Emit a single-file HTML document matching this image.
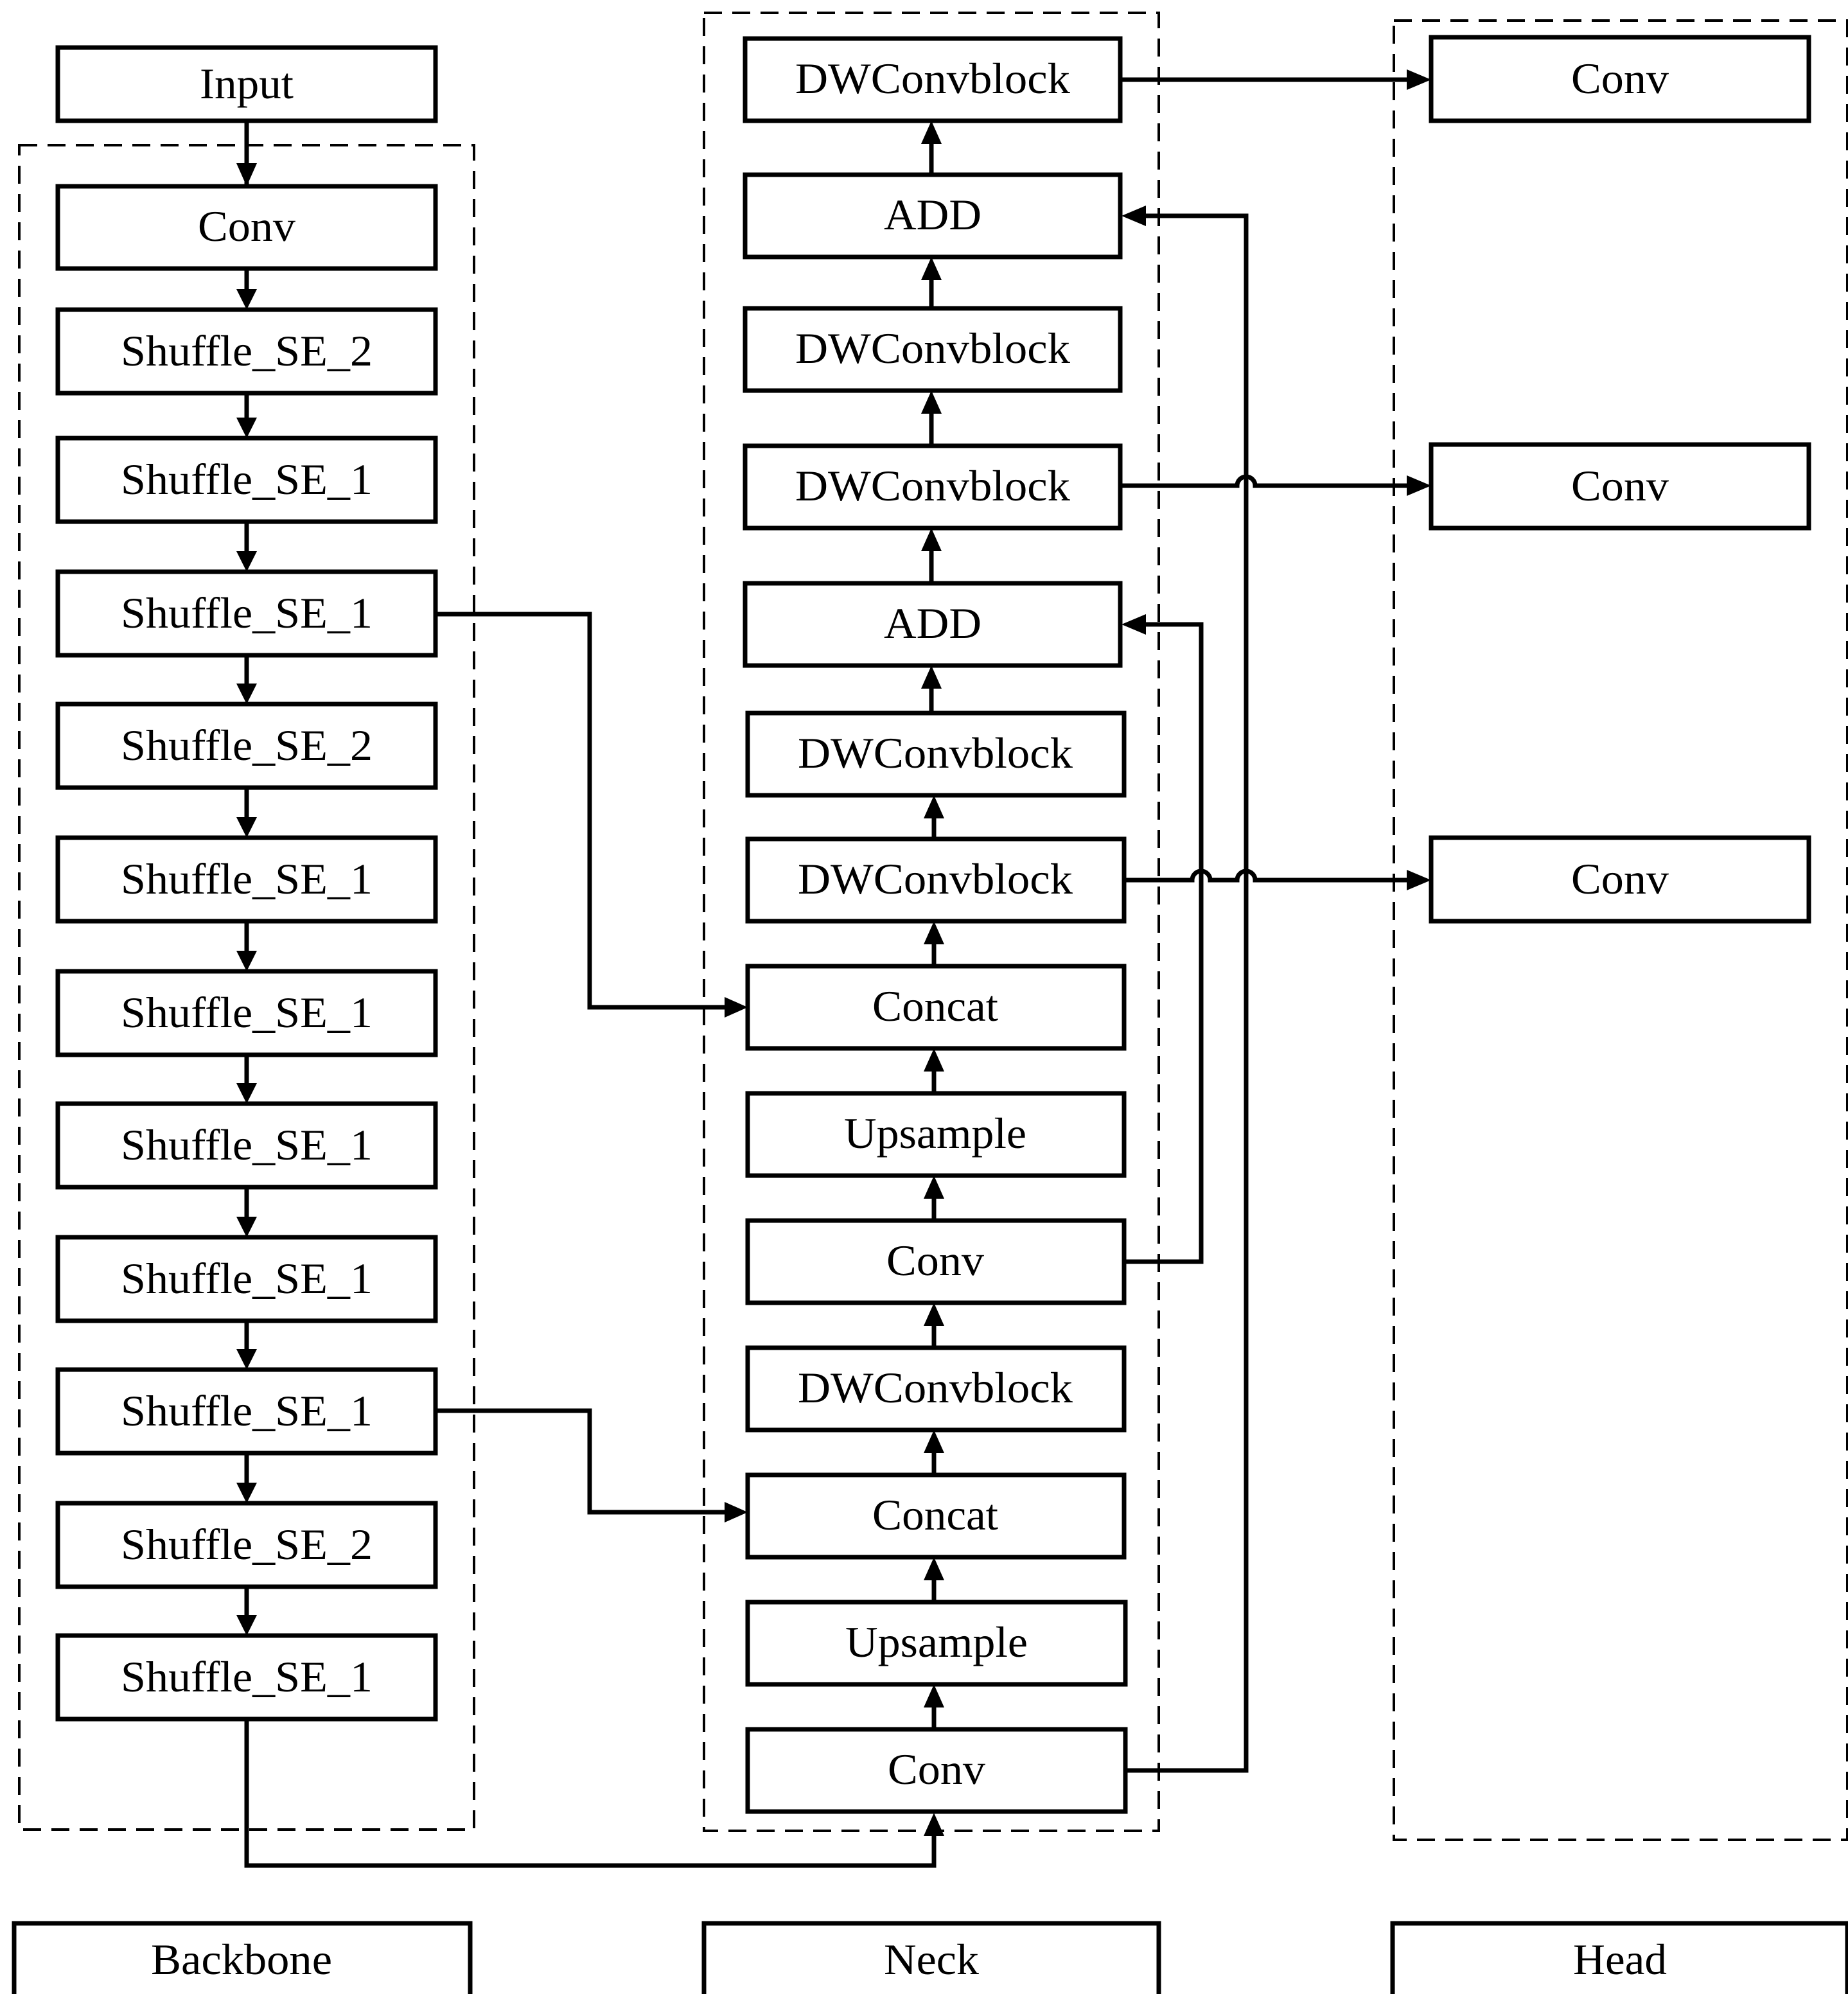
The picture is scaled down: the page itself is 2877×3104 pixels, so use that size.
<!DOCTYPE html>
<html><head><meta charset="utf-8"><style>html,body{margin:0;padding:0;background:#fff}svg{display:block}</style></head>
<body>
<svg xmlns="http://www.w3.org/2000/svg" width="2877" height="3104" viewBox="0 0 1438.5 1552">
<defs>
<marker id="a" viewBox="0 0 10 10" refX="10" refY="5" markerWidth="7" markerHeight="7" markerUnits="userSpaceOnUse" orient="auto"><path d="M0,0L10,5L0,10z" fill="#000"/></marker>
</defs>
<style>
.b{fill:#fff;stroke:#000;stroke-width:3.5}
.d{fill:none;stroke:#000;stroke-width:2;stroke-dasharray:14 8}
.l{fill:none;stroke:#000;stroke-width:3.5}
text{font-family:"Liberation Serif",serif;font-size:34px;text-anchor:middle;dominant-baseline:central}
</style>
<g id="ar" class="l"></g>
<!-- dashed groups -->
<rect class="d" x="15" y="113" width="354" height="1311"/>
<rect class="d" x="548" y="10" width="354" height="1415"/>
<rect class="d" x="1085" y="16" width="353" height="1416"/>

<!-- connectors -->
<g class="l">
<path d="M192 94V145" marker-end="url(#a)" style="marker-end:none"/>
</g>
<g fill="#000">
</g>
<g stroke="#000" stroke-width="3.5" fill="none">
<path d="M192 94V127"/><path d="M192 209V225"/><path d="M192 306V325"/><path d="M192 406V429"/><path d="M192 510V532"/><path d="M192 613V636"/><path d="M192 717V740"/><path d="M192 821V843"/><path d="M192 924V947"/><path d="M192 1028V1050"/><path d="M192 1131V1154"/><path d="M192 1235V1257"/>
<path d="M192 1338V1452H727V1427"/>
<path d="M339 478H459V784H564"/>
<path d="M339 1098H459V1177H564"/>
<path d="M875 982H935V486H890"/>
<path d="M875 1378H970V168H890"/>
<path d="M872 62H1097"/>
<path d="M872 378H963a7 7 0 0 1 14 0H1097"/>
<path d="M875 685H928a7 7 0 0 1 14 0H963a7 7 0 0 1 14 0H1097"/>
<!-- neck up arrows -->
<path d="M727 1346V1327"/><path d="M727 1247V1228"/><path d="M727 1148V1129"/><path d="M727 1049V1030"/><path d="M727 950V931"/><path d="M727 851V832"/><path d="M727 752V733"/><path d="M727 653V635"/><path d="M725 555V534"/><path d="M725 454V427"/><path d="M725 347V320"/><path d="M725 240V216"/><path d="M725 136V110"/>
</g>
<g fill="#000">
<!-- down arrowheads backbone -->
<path d="M184 127h16l-8 18z"/><path d="M184 225h16l-8 16z"/><path d="M184 325h16l-8 16z"/><path d="M184 429h16l-8 16z"/><path d="M184 532h16l-8 16z"/><path d="M184 636h16l-8 16z"/><path d="M184 740h16l-8 16z"/><path d="M184 843h16l-8 16z"/><path d="M184 947h16l-8 16z"/><path d="M184 1050h16l-8 16z"/><path d="M184 1154h16l-8 16z"/><path d="M184 1257h16l-8 16z"/>
<!-- up arrowheads neck -->
<path d="M719 1429h16l-8 -18z"/><path d="M719 1329h16l-8 -18z"/><path d="M719 1230h16l-8 -18z"/><path d="M719 1131h16l-8 -18z"/><path d="M719 1032h16l-8 -18z"/><path d="M719 933h16l-8 -18z"/><path d="M719 834h16l-8 -18z"/><path d="M719 735h16l-8 -18z"/><path d="M719 637h16l-8 -18z"/><path d="M717 536h16l-8 -18z"/><path d="M717 429h16l-8 -18z"/><path d="M717 322h16l-8 -18z"/><path d="M717 218h16l-8 -18z"/><path d="M717 112h16l-8 -18z"/>
<!-- right arrowheads -->
<path d="M564 776v16l18 -8z"/><path d="M564 1169v16l18 -8z"/>
<path d="M1095 54v16l19 -8z"/><path d="M1095 370v16l19 -8z"/><path d="M1095 677v16l19 -8z"/>
<!-- left arrowheads -->
<path d="M892 478v16l-19 -8z"/><path d="M892 160v16l-19 -8z"/>
</g>

<!-- backbone boxes -->
<rect class="b" x="45" y="37" width="294" height="57"/><text x="192" y="65" textLength="73" lengthAdjust="spacingAndGlyphs">Input</text>
<rect class="b" x="45" y="145" width="294" height="64"/><text x="192" y="176" textLength="76" lengthAdjust="spacingAndGlyphs">Conv</text>
<rect class="b" x="45" y="241" width="294" height="65"/><text x="192" y="273" textLength="196" lengthAdjust="spacingAndGlyphs">Shuffle_SE_2</text>
<rect class="b" x="45" y="341" width="294" height="65"/><text x="192" y="373" textLength="196" lengthAdjust="spacingAndGlyphs">Shuffle_SE_1</text>
<rect class="b" x="45" y="445" width="294" height="65"/><text x="192" y="477" textLength="196" lengthAdjust="spacingAndGlyphs">Shuffle_SE_1</text>
<rect class="b" x="45" y="548" width="294" height="65"/><text x="192" y="580" textLength="196" lengthAdjust="spacingAndGlyphs">Shuffle_SE_2</text>
<rect class="b" x="45" y="652" width="294" height="65"/><text x="192" y="684" textLength="196" lengthAdjust="spacingAndGlyphs">Shuffle_SE_1</text>
<rect class="b" x="45" y="756" width="294" height="65"/><text x="192" y="788" textLength="196" lengthAdjust="spacingAndGlyphs">Shuffle_SE_1</text>
<rect class="b" x="45" y="859" width="294" height="65"/><text x="192" y="891" textLength="196" lengthAdjust="spacingAndGlyphs">Shuffle_SE_1</text>
<rect class="b" x="45" y="963" width="294" height="65"/><text x="192" y="995" textLength="196" lengthAdjust="spacingAndGlyphs">Shuffle_SE_1</text>
<rect class="b" x="45" y="1066" width="294" height="65"/><text x="192" y="1098" textLength="196" lengthAdjust="spacingAndGlyphs">Shuffle_SE_1</text>
<rect class="b" x="45" y="1170" width="294" height="65"/><text x="192" y="1202" textLength="196" lengthAdjust="spacingAndGlyphs">Shuffle_SE_2</text>
<rect class="b" x="45" y="1273" width="294" height="65"/><text x="192" y="1305" textLength="196" lengthAdjust="spacingAndGlyphs">Shuffle_SE_1</text>

<!-- neck boxes -->
<rect class="b" x="580" y="30" width="292" height="64"/><text x="726" y="61" textLength="214" lengthAdjust="spacingAndGlyphs">DWConvblock</text>
<rect class="b" x="580" y="136" width="292" height="64"/><text x="726" y="167" textLength="76" lengthAdjust="spacingAndGlyphs">ADD</text>
<rect class="b" x="580" y="240" width="292" height="64"/><text x="726" y="271" textLength="214" lengthAdjust="spacingAndGlyphs">DWConvblock</text>
<rect class="b" x="580" y="347" width="292" height="64"/><text x="726" y="378" textLength="214" lengthAdjust="spacingAndGlyphs">DWConvblock</text>
<rect class="b" x="580" y="454" width="292" height="64"/><text x="726" y="485" textLength="76" lengthAdjust="spacingAndGlyphs">ADD</text>
<rect class="b" x="582" y="555" width="293" height="64"/><text x="728" y="586" textLength="214" lengthAdjust="spacingAndGlyphs">DWConvblock</text>
<rect class="b" x="582" y="653" width="293" height="64"/><text x="728" y="684" textLength="214" lengthAdjust="spacingAndGlyphs">DWConvblock</text>
<rect class="b" x="582" y="752" width="293" height="64"/><text x="728" y="783" textLength="98" lengthAdjust="spacingAndGlyphs">Concat</text>
<rect class="b" x="582" y="851" width="293" height="64"/><text x="728" y="882" textLength="142" lengthAdjust="spacingAndGlyphs">Upsample</text>
<rect class="b" x="582" y="950" width="293" height="64"/><text x="728" y="981" textLength="76" lengthAdjust="spacingAndGlyphs">Conv</text>
<rect class="b" x="582" y="1049" width="293" height="64"/><text x="728" y="1080" textLength="214" lengthAdjust="spacingAndGlyphs">DWConvblock</text>
<rect class="b" x="582" y="1148" width="293" height="64"/><text x="728" y="1179" textLength="98" lengthAdjust="spacingAndGlyphs">Concat</text>
<rect class="b" x="582" y="1247" width="294" height="64"/><text x="729" y="1278" textLength="142" lengthAdjust="spacingAndGlyphs">Upsample</text>
<rect class="b" x="582" y="1346" width="294" height="64"/><text x="729" y="1377" textLength="76" lengthAdjust="spacingAndGlyphs">Conv</text>

<!-- head boxes -->
<rect class="b" x="1114" y="29" width="294" height="65"/><text x="1261" y="61" textLength="76" lengthAdjust="spacingAndGlyphs">Conv</text>
<rect class="b" x="1114" y="346" width="294" height="65"/><text x="1261" y="378" textLength="76" lengthAdjust="spacingAndGlyphs">Conv</text>
<rect class="b" x="1114" y="652" width="294" height="65"/><text x="1261" y="684" textLength="76" lengthAdjust="spacingAndGlyphs">Conv</text>

<!-- labels -->
<rect class="b" x="11" y="1497" width="355" height="57"/><text x="188" y="1525" textLength="141" lengthAdjust="spacingAndGlyphs">Backbone</text>
<rect class="b" x="548" y="1497" width="354" height="57"/><text x="725" y="1525" textLength="74" lengthAdjust="spacingAndGlyphs">Neck</text>
<rect class="b" x="1084" y="1497" width="354" height="57"/><text x="1261" y="1525" textLength="73" lengthAdjust="spacingAndGlyphs">Head</text>
</svg>
</body></html>
